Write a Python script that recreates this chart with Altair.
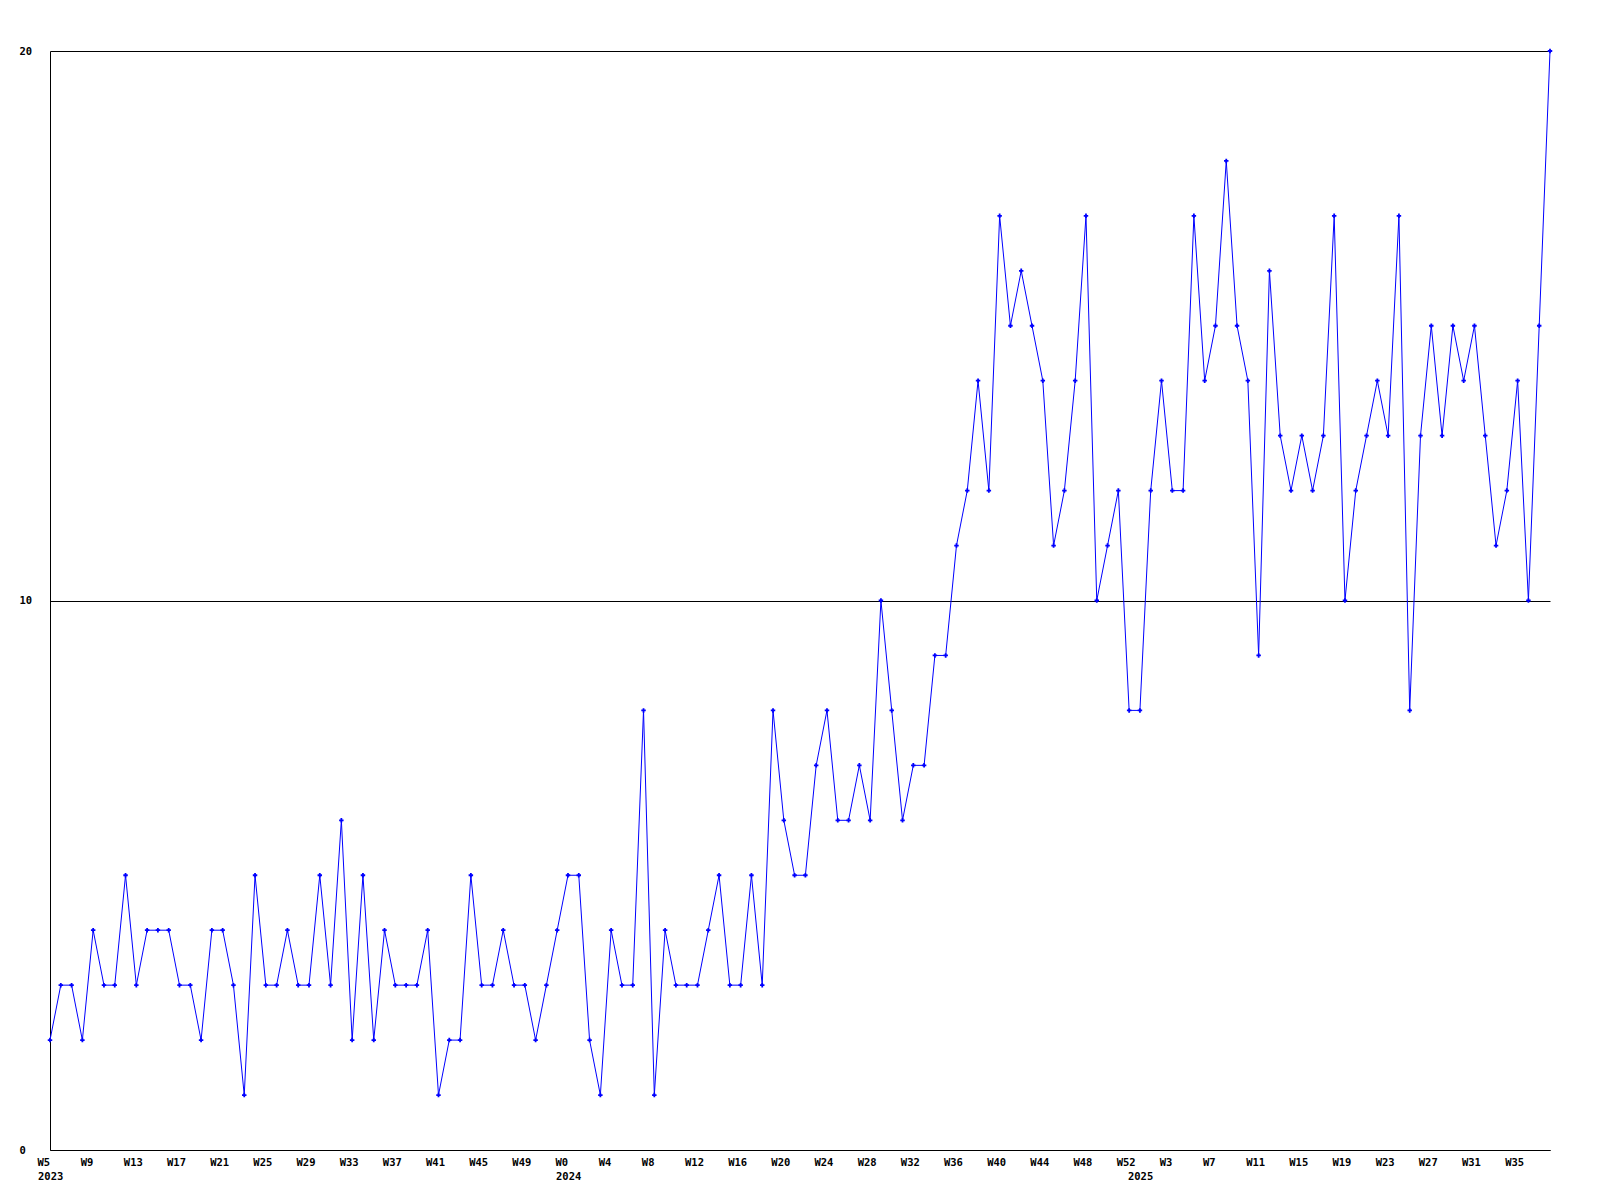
import altair as alt
import pandas as pd

values = [
    2, 3, 3, 2, 4, 3, 3, 5, 3, 4, 4, 4, 3, 3, 2, 4, 4, 3, 1, 5, 3, 3, 4, 3, 3, 5, 3, 6, 2, 5, 2, 4, 3,
    3, 3, 4, 1, 2, 2, 5, 3, 3, 4, 3, 3, 2, 3, 4, 5, 5, 2, 1, 4, 3, 3, 8, 1, 4, 3, 3, 3, 4, 5, 3, 3, 5, 3, 8, 6,
    5, 5, 7, 8, 6, 6, 7, 6, 10, 8, 6, 7, 7, 9, 9,
    11, 12, 14, 12, 17, 15, 16, 15, 14, 11, 12, 14, 17, 10, 11, 12, 8, 8, 12, 14, 12,
    12, 17, 14, 15, 18, 15, 14, 9, 16, 13, 12, 13, 12, 13, 17, 10, 12, 13, 14, 13, 17, 8, 13, 15, 13, 15, 14,
    15, 13, 11, 12, 14, 10, 15, 20,
]

tick_labels = [
    "W5", "W9", "W13", "W17", "W21", "W25", "W29", "W33", "W37", "W41", "W45", "W49",
    "W0", "W4", "W8", "W12", "W16", "W20", "W24", "W28", "W32", "W36", "W40", "W44", "W48", "W52",
    "W3", "W7", "W11", "W15", "W19", "W23", "W27", "W31", "W35",
]
tick_step = 4

year_labels = ["2023", "2024", "2025"]
year_index = [0, 48, 101]

FONT = "DejaVu Sans Mono"
FS = 10.5
W, H = 1500, 1099

df = pd.DataFrame({"i": list(range(len(values))), "v": values})
years = pd.DataFrame({"i": year_index, "label": year_labels})

tick_pos = [k * tick_step for k in range(len(tick_labels))]
label_expr = "[" + ",".join("'" + t + "'" for t in tick_labels) + "][round(datum.value/" + str(tick_step) + ")]"

xscale = alt.Scale(domain=[0, len(values) - 1], nice=False, zero=False)

x = alt.X(
    "i:Q",
    scale=xscale,
    axis=alt.Axis(
        values=tick_pos, labelExpr=label_expr, title=None, ticks=False, tickSize=0,
        grid=False, labelAlign="left", labelOffset=-13, labelBaseline="middle",
        labelPadding=12, labelFlush=False, labelOverlap=False, domainColor="black",
        labelFont=FONT, labelFontSize=FS, labelFontWeight="bold", labelColor="black",
    ),
)
y = alt.Y(
    "v:Q",
    scale=alt.Scale(domain=[0, 20], nice=False, zero=True),
    axis=alt.Axis(
        values=[0, 10, 20], title=None, ticks=False, tickSize=0, grid=True,
        gridColor="black", gridOpacity=1, gridWidth=1, labelAlign="left",
        labelPadding=31, labelBaseline="middle", domainColor="black",
        labelFont=FONT, labelFontSize=FS, labelFontWeight="bold", labelColor="black",
    ),
)

line = alt.Chart(df).mark_line(color="#0000ff", strokeWidth=1).encode(x=x, y=y)
pts = alt.Chart(df).mark_point(shape="cross", filled=True, size=20, color="#0000ff", opacity=1).encode(x=x, y=y)
yr = alt.Chart(years).mark_text(
    align="left", dx=-12, baseline="middle", font=FONT, fontSize=FS, fontWeight="bold", color="black"
).encode(
    x=x,
    y=alt.value(H + 27),
    text="label:N",
)

chart = alt.layer(line, pts, yr).properties(
    width=W, height=H,
    autosize=alt.AutoSizeParams(type="none"),
    padding={"left": 42, "top": 43, "right": 30, "bottom": 40},
    background="white",
).configure_view(strokeWidth=0)

chart.save("out.html", embed_options={"renderer": "svg", "actions": False})
